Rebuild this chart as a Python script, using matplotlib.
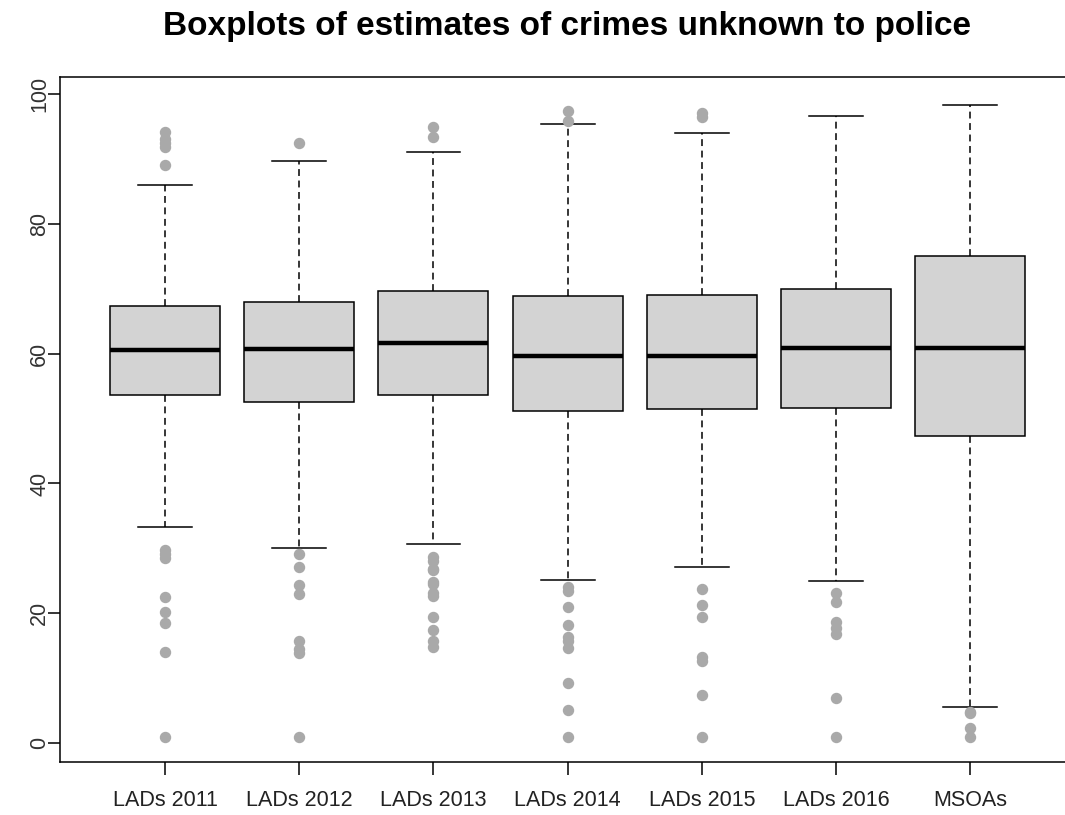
import matplotlib
matplotlib.use("Agg")
import matplotlib.pyplot as plt

plt.rcParams['font.family'] = ['Liberation Sans', 'DejaVu Sans']

groups = ["LADs 2011", "LADs 2012", "LADs 2013", "LADs 2014",
          "LADs 2015", "LADs 2016", "MSOAs"]

# five-number summaries per group
whis_lo = [33.3, 30.0, 30.6, 25.1, 27.2, 24.9, 5.5]
q1 = [53.6, 52.5, 53.6, 51.2, 51.5, 51.6, 47.3]
medians = [60.5, 60.7, 61.6, 59.6, 59.6, 60.8, 60.8]
q3 = [67.4, 68.0, 69.6, 68.8, 69.1, 70.0, 75.1]
whis_hi = [86.0, 89.6, 91.1, 95.3, 93.9, 96.6, 98.3]

# outlying estimates
outliers = [
    [94.1, 93.0, 92.4, 91.8, 89.1,
     29.8, 29.2, 28.5, 22.5, 20.2, 18.5, 14.0, 1.0],
    [92.4,
     29.2, 27.2, 24.3, 23.0, 15.8, 14.5, 13.9, 1.0],
    [94.9, 93.4,
     28.6, 28.1, 26.8, 26.6, 24.8, 24.5, 23.2, 22.7, 19.4, 17.5, 15.8, 14.8],
    [97.3, 95.8,
     24.1, 23.5, 21.0, 18.2, 16.3, 15.7, 14.6, 9.3, 5.1, 1.0],
    [97.0, 96.5,
     23.8, 21.3, 19.5, 13.3, 12.7, 7.4, 1.0],
    [23.1, 21.7, 18.7, 17.8, 16.8, 7.0, 1.0],
    [4.8, 4.6, 2.3, 1.0],
]

stats = []
for i, name in enumerate(groups):
    stats.append(dict(label=name, whislo=whis_lo[i], q1=q1[i], med=medians[i],
                      q3=q3[i], whishi=whis_hi[i], fliers=outliers[i]))

fig = plt.figure(figsize=(10.65, 8.15), dpi=100)
ax = fig.add_axes([60 / 1065, 53 / 815, 1015 / 1065, 685 / 815])

ax.bxp(stats, positions=range(1, 8), widths=0.82, patch_artist=True,
       showfliers=True,
       boxprops=dict(facecolor="#d3d3d3", edgecolor="black", linewidth=1.1),
       medianprops=dict(color="black", linewidth=3.2),
       whiskerprops=dict(color="black", linewidth=1.1, linestyle=(0, (4.5, 3))),
       capprops=dict(color="black", linewidth=1.1),
       capwidths=0.4,
       flierprops=dict(marker="o", markersize=7.2, markerfacecolor="#a9a9a9",
                       markeredgecolor="#a9a9a9"))

ax.set_xlim(0.2176, 7.78)
ax.set_ylim(-2.9, 102.6)
ax.set_yticks([0, 20, 40, 60, 80, 100])
ax.set_xticks(range(1, 8))
ax.set_xticklabels(groups)

for sp in ax.spines.values():
    sp.set_linewidth(1.1)

ax.tick_params(axis="both", length=9, width=1.1, labelsize=15.5, colors="black")
ax.tick_params(axis="x", pad=11)
ax.tick_params(axis="y", pad=-2)
for lbl in ax.get_yticklabels():
    lbl.set_rotation(90)
    lbl.set_va("center")
    lbl.set_color("#333333")
for lbl in ax.get_xticklabels():
    lbl.set_color("#222222")

fig.text(567 / 1065, 1 - 26 / 815, "Boxplots of estimates of crimes unknown to police",
         ha="center", va="center", fontsize=24, fontweight="bold")

fig.savefig("out.png", dpi=100)
